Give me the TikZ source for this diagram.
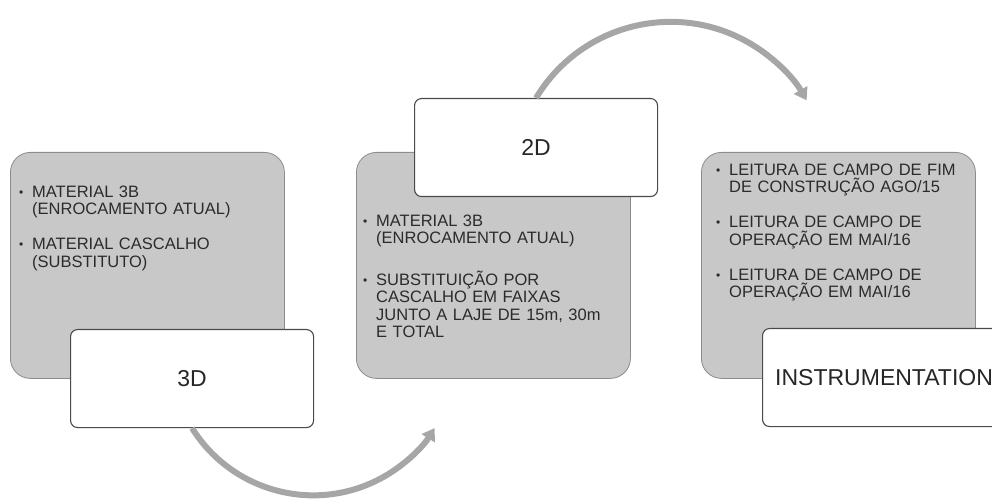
\documentclass[tikz,border=0pt]{standalone}
\usepackage{fontspec}
\setmainfont{Liberation Sans}
\usepackage{xcolor}
\usetikzlibrary{arrows.meta}

\definecolor{panelgray}{HTML}{C8C8C8}
\definecolor{panelline}{HTML}{8C8C8C}
\definecolor{boxline}{HTML}{4A4A4A}
\definecolor{flowgray}{HTML}{A6A6A6}
\definecolor{bodytext}{HTML}{2B2B2B}

% viñetas con sangría francesa; \bfirst abre la lista, \bitem deja hueco
\newcommand{\bfirst}[1]{\noindent\hangindent=13pt\hangafter=1%
  \makebox[13pt][l]{\raisebox{0.8pt}{\fontsize{12}{12}\selectfont\textbullet}}#1\par}
\newcommand{\bitem}[1]{\vspace{\itemgap}\bfirst{#1}}

\begin{document}
\begin{tikzpicture}[
  x=1pt, y=1pt,
  >={Triangle[length=12pt,width=15pt]},
  panel/.style={draw=panelline, line width=0.8pt, rounded corners=20pt,
                fill=panelgray, inner sep=0pt, anchor=north west,
                minimum width=274pt, minimum height=226pt},
  title/.style={draw=boxline, line width=1.1pt, rounded corners=7pt,
                fill=white, inner sep=0pt, anchor=north west,
                minimum width=243pt, minimum height=98pt,
                font=\fontsize{23}{27}\selectfont, text=black!85},
  items/.style={inner sep=0pt, anchor=north west, align=left,
                text width=250pt, text=bodytext,
                font=\fontsize{16.5}{17.5}\selectfont,
                execute at begin node={\setlength{\parskip}{0pt}\def\itemgap{#1}}},
  items/.default=17.5pt,
  flow/.style={->, line width=6pt, flowgray}]

%% Geometría en pt = píxeles de la figura (992 x 498); la caja de
%% INSTRUMENTATION se sale por la derecha y queda cortada por el clip.
\useasboundingbox (0,0) rectangle (992,498);
\clip (0,0) rectangle (992,498);

%% ---- paneles grises ----
\node[panel] (p3d) at (10,346) {};
\node[panel] (p2d) at (356,346) {};
\node[panel] (pins) at (701,346) {};

\node[items] (l3d) at ([shift={(9,-33.5)}]p3d.north west)
  {\bfirst{MATERIAL 3B\newline(ENROCAMENTO ATUAL)}
   \bitem{MATERIAL CASCALHO\newline(SUBSTITUTO)}};

\node[items=22.5pt] (l2d) at ([shift={(7,-62.5)}]p2d.north west)
  {\bfirst{MATERIAL 3B\newline(ENROCAMENTO ATUAL)}
   \bitem{SUBSTITUIÇÃO POR\newline CASCALHO EM FAIXAS\newline
          JUNTO A LAJE DE 15m, 30m\newline E TOTAL}};

\node[items] (lins) at ([shift={(15,-11.5)}]pins.north west)
  {\bfirst{LEITURA DE CAMPO DE FIM\newline DE CONSTRUÇÃO AGO/15}
   \bitem{LEITURA DE CAMPO DE\newline OPERAÇÃO EM MAI/16}
   \bitem{LEITURA DE CAMPO DE\newline OPERAÇÃO EM MAI/16}};

%% ---- cajas blancas de título ----
\node[title] (t3d) at (70,169) {3D};
\node[title] (t2d) at (414,400) {2D};
\node[title] (tins) at (762,170) {INSTRUMENTATION};

%% ---- flechas curvas ----
\draw[flow] (t3d.south) arc[start angle=212, end angle=328, radius=143];
\draw[flow] (t2d.north) arc[start angle=149, end angle=30, radius=157];
\end{tikzpicture}
\end{document}
